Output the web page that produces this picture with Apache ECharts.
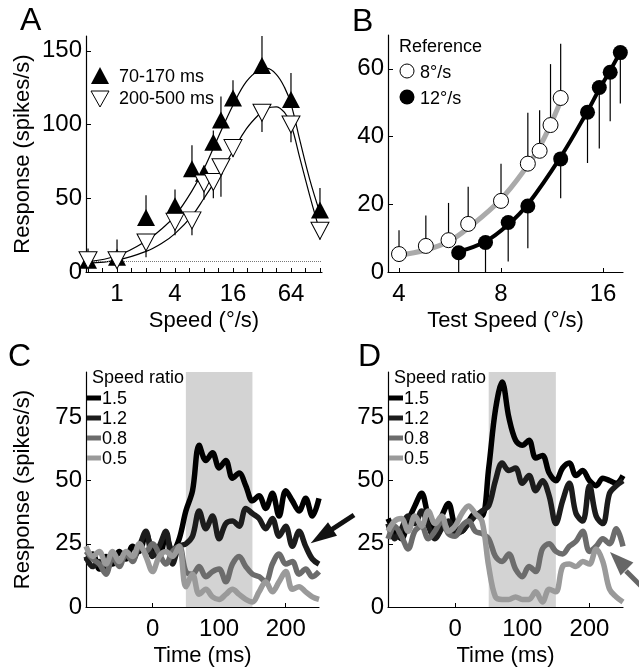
<!DOCTYPE html>
<html>
<head>
<meta charset="utf-8">
<script src="https://cdn.jsdelivr.net/npm/echarts@6/dist/echarts.min.js"></script>
<style>
  html, body { margin: 0; padding: 0; background: #fff; }
  #chart { width: 639px; height: 671px; }
</style>
</head>
<body>
<div id="chart"></div>
<script>
// panel A: speed tuning, two time windows
const speedA = [0.5, 1, 2, 4, 6, 8, 10, 12, 16, 32, 64, 128];
const earlyA = [8, 10, 37, 45, 70, 67, 88, 103, 118, 140, 117, 42];
const earlyErrA = [8, 12, 15, 11, 16, 5, 8, 16, 12, 20, 18, 15];
const lateA = [8, 8, 20, 34, 35, 60, 61, 71, 84, 108, 100, 28];
const lateErrA = [5, 4, 10, 9, 10, 11, 11, 20, 6, 13, 12, 6];
const fitSpeedA = [0.5, 1, 2, 3, 4, 6, 8, 11, 16, 22, 30, 36, 45, 55, 64, 80, 100, 128];
const earlyFitA = [7, 11, 21, 30, 38, 55, 70, 90, 113, 129, 137, 138, 134, 125, 114, 88, 63, 40];
const lateFitA = [6, 8, 14, 20, 26, 38, 50, 64, 82, 97, 107, 111, 112, 108, 100, 76, 52, 27];
const spontA = 7;

// panel B: test speed, two reference speeds
const testSpeed8 = [4, 4.8, 5.6, 6.4, 8, 9.6, 10.4, 11.2, 12];
const resp8 = [5.3, 7.7, 9.4, 14.2, 21, 32, 35.8, 43.4, 51.4];
const err8 = [7, 9, 11, 11, 11, 15, 12, 18, 16];
const fit8 = [5, 6.5, 9, 13, 21.5, 31.5, 37, 43.5, 50.5];
const testSpeed12 = [6, 7.2, 8.4, 9.6, 12, 14.4, 15.6, 16.8, 18];
const resp12 = [5.7, 8.7, 14.6, 19.5, 33.4, 47.2, 54.5, 59, 64.8];
const err12 = [6, 9, 11.5, 12.5, 11.6, 15, 18, 14.5, 15];
const fit12 = [6, 9, 14, 20, 34, 47.5, 54, 59.5, 65];

// panels C, D: PSTH by speed ratio
const timeMs = [-100, -90, -80, -70, -60, -50, -40, -30, -20, -10, 0, 10, 20, 30, 40, 50, 60, 70,
  80, 90, 100, 110, 120, 130, 140, 150, 160, 170, 180, 190, 200, 210, 220, 230, 240, 250];
const ratios = ['1.5', '1.2', '0.8', '0.5'];
const ratioColors = ['#000000', '#1c1c1c', '#6c6c6c', '#9a9a9a'];
const c15 = [18, 21, 15, 20, 17, 22, 19, 24, 22, 29, 22, 20, 28, 22, 27, 38, 46, 64, 58, 61, 55, 58, 51, 53, 48, 42, 44, 39, 45, 36, 46, 42, 38, 43, 36, 43];
const c12 = [20, 16, 18, 14, 19, 17, 21, 19, 24, 30, 20, 24, 30, 17, 24, 25, 28, 38, 31, 36, 27, 33, 34, 32, 39, 37, 35, 31, 35, 28, 32, 24, 30, 24, 19, 17];
const c08 = [22, 19, 17, 13, 20, 16, 21, 18, 24, 22, 25, 21, 17, 22, 24, 14, 13, 16, 12, 14, 15, 10, 17, 20, 16, 13, 12, 10, 17, 21, 17, 18, 13, 15, 12, 14];
const c05 = [24, 20, 22, 17, 22, 18, 22, 20, 25, 20, 14, 20, 22, 20, 24, 8, 13, 5, 7, 4, 3, 5, 7, 5, 3, 2, 6, 10, 6, 10, 14, 7, 8, 6, 4, 3];
const d15 = [35, 30, 27, 34, 40, 45, 36, 31, 36, 41, 32, 30, 34, 37, 36, 55, 78, 89, 75, 66, 64, 66, 59, 60, 53, 50, 55, 57, 52, 54, 50, 48, 51, 50, 49, 52];
const d12 = [33, 27, 31, 36, 33, 38, 32, 27, 31, 34, 29, 30, 33, 36, 38, 40, 50, 57, 54, 55, 49, 52, 46, 50, 44, 33, 42, 49, 37, 34, 48, 36, 33, 45, 48, 50];
const d08 = [27, 32, 28, 23, 30, 32, 27, 30, 34, 29, 28, 32, 34, 30, 29, 27, 20, 18, 21, 15, 12, 16, 14, 23, 25, 22, 21, 24, 26, 30, 22, 24, 27, 25, 31, 24];
const d05 = [30, 34, 35, 30, 36, 32, 38, 33, 36, 30, 32, 37, 40, 37, 34, 16, 4, 3, 3, 4, 3, 3, 6, 2, 7, 6, 16, 17, 16, 18, 17, 23, 18, 7, 4, 2];
const windowMs = [50, 150];

const L = Math.log2;
const FONT = 'Liberation Sans, Arial, Helvetica, sans-serif';
const chart = echarts.init(document.getElementById('chart'));

function errBars(xi, yi, xs, lo, hi) {
  return {
    type: 'custom', xAxisIndex: xi, yAxisIndex: yi, z: 3, silent: true,
    data: xs.map((x, i) => [x, Math.max(0, lo[i]), hi[i]]),
    encode: { x: 0, y: [1, 2] },
    renderItem: (params, api) => {
      const p1 = api.coord([api.value(0), api.value(1)]);
      const p2 = api.coord([api.value(0), api.value(2)]);
      return { type: 'line', shape: { x1: p1[0], y1: p1[1], x2: p2[0], y2: p2[1] },
        style: { stroke: '#000', lineWidth: 1.2 } };
    }
  };
}

function baseAxisX(grid, min, max, labels, ticks, fmt, name) {
  return {
    type: 'value', gridIndex: grid, min: min, max: max,
    splitLine: { show: false },
    axisLine: { onZero: false, lineStyle: { color: '#000', width: 1.2 } },
    axisTick: { inside: true, length: 4, customValues: ticks, lineStyle: { color: '#000' } },
    axisLabel: { customValues: labels, formatter: fmt, color: '#000', fontSize: 24, fontFamily: FONT, margin: 10 },
    name: name, nameLocation: 'middle', nameGap: 38,
    nameTextStyle: { color: '#000', fontSize: 22, fontFamily: FONT }
  };
}
function baseAxisY(grid, min, max, labels, name) {
  return {
    type: 'value', gridIndex: grid, min: min, max: max,
    splitLine: { show: false },
    axisLine: { show: true, onZero: false, lineStyle: { color: '#000', width: 1.2 } },
    axisTick: { show: true, inside: true, length: 5, customValues: labels, lineStyle: { color: '#000' } },
    axisLabel: { customValues: labels, color: '#000', fontSize: 24, fontFamily: FONT, margin: 4 },
    name: name || '', nameLocation: 'middle', nameGap: 52,
    nameTextStyle: { color: '#000', fontSize: 22, fontFamily: FONT }
  };
}

const pow2 = v => String(Math.round(Math.pow(2, v)));
const halfOct = [];
for (let v = -1; v <= 7; v += 0.5) halfOct.push(v);

const series = [];
// A
series.push({ type: 'line', xAxisIndex: 0, yAxisIndex: 0, smooth: 0.4, showSymbol: false, z: 2,
  data: fitSpeedA.map((s, i) => [L(s), earlyFitA[i]]), lineStyle: { color: '#000', width: 1.2 },
  markLine: { silent: true, symbol: 'none', label: { show: false },
    lineStyle: { type: 'dotted', color: '#777', width: 1 }, data: [{ yAxis: spontA }] } });
series.push({ type: 'line', xAxisIndex: 0, yAxisIndex: 0, smooth: 0.4, showSymbol: false, z: 2,
  data: fitSpeedA.map((s, i) => [L(s), lateFitA[i]]), lineStyle: { color: '#000', width: 1.2 } });
series.push(errBars(0, 0, speedA.map(L), earlyA, earlyA.map((v, i) => v + earlyErrA[i])));
series.push(errBars(0, 0, speedA.map(L), lateA.map((v, i) => v - lateErrA[i]), lateA));
series.push({ type: 'scatter', xAxisIndex: 0, yAxisIndex: 0, z: 5, symbol: 'triangle', symbolSize: [18, 17],
  data: speedA.map((s, i) => [L(s), earlyA[i]]), itemStyle: { color: '#000', opacity: 1 } });
series.push({ type: 'scatter', xAxisIndex: 0, yAxisIndex: 0, z: 6, symbol: 'triangle', symbolSize: [18, 17], symbolRotate: 180,
  data: speedA.map((s, i) => [L(s), lateA[i]]), itemStyle: { color: '#fff', borderColor: '#000', borderWidth: 1, opacity: 1 } });
// B
series.push({ type: 'line', xAxisIndex: 1, yAxisIndex: 1, smooth: 0.4, showSymbol: false, z: 2,
  data: testSpeed8.map((s, i) => [L(s), fit8[i]]), lineStyle: { color: '#aaaaaa', width: 5 } });
series.push({ type: 'line', xAxisIndex: 1, yAxisIndex: 1, smooth: 0.4, showSymbol: false, z: 2,
  data: testSpeed12.map((s, i) => [L(s), fit12[i]]), lineStyle: { color: '#000', width: 4 } });
series.push(errBars(1, 1, testSpeed8.map(L), resp8, resp8.map((v, i) => v + err8[i])));
series.push(errBars(1, 1, testSpeed12.map(L), resp12.map((v, i) => v - err12[i]), resp12));
series.push({ type: 'scatter', xAxisIndex: 1, yAxisIndex: 1, z: 5, symbol: 'circle', symbolSize: 15,
  data: testSpeed8.map((s, i) => [L(s), resp8[i]]), itemStyle: { color: '#fff', borderColor: '#000', borderWidth: 1, opacity: 1 } });
series.push({ type: 'scatter', xAxisIndex: 1, yAxisIndex: 1, z: 5, symbol: 'circle', symbolSize: 15,
  data: testSpeed12.map((s, i) => [L(s), resp12[i]]), itemStyle: { color: '#000', opacity: 1 } });
// C, D
[[c15, c12, c08, c05], [d15, d12, d08, d05]].forEach((traces, p) => {
  traces.forEach((tr, k) => {
    const s = { type: 'line', xAxisIndex: 2 + p, yAxisIndex: 2 + p, smooth: 0.35, showSymbol: false, z: 3 + k,
      data: timeMs.map((t, i) => [t, tr[i]]), lineStyle: { color: ratioColors[k], width: 5.5 } };
    if (k === 0) {
      s.markArea = { silent: true, itemStyle: { color: '#d3d3d3' },
        data: [[{ xAxis: windowMs[0] }, { xAxis: windowMs[1] }]] };
    }
    series.push(s);
  });
});

// legends, panel letters, arrows
const graphic = [];
const txt = (x, y, text, size, align) => ({ type: 'text', x: x, y: y, z: 100,
  style: { text: text, fill: '#000', font: size + 'px ' + FONT, align: align || 'left', verticalAlign: 'middle' } });
graphic.push(txt(20, 21, 'A', 32), txt(352, 22, 'B', 32), txt(8, 357, 'C', 32), txt(358, 357, 'D', 32));
graphic.push({ type: 'polygon', z: 100, shape: { points: [[100, 67], [109, 84], [91, 84]] }, style: { fill: '#000' } });
graphic.push({ type: 'polygon', z: 100, shape: { points: [[91, 91], [109, 91], [100, 107]] }, style: { fill: '#fff', stroke: '#000', lineWidth: 1 } });
graphic.push(txt(119, 77, '70-170 ms', 18), txt(119, 99, '200-500 ms', 18));
graphic.push(txt(399, 47, 'Reference', 18));
graphic.push({ type: 'circle', z: 100, shape: { cx: 407, cy: 71, r: 7 }, style: { fill: '#fff', stroke: '#000', lineWidth: 1 } });
graphic.push({ type: 'circle', z: 100, shape: { cx: 407, cy: 97, r: 7.5 }, style: { fill: '#000' } });
graphic.push(txt(420, 73, '8°/s', 18), txt(420, 99, '12°/s', 18));
[[86, 378], [388, 378]].forEach(([x0, y0]) => {
  graphic.push(txt(x0 + 6, y0, 'Speed ratio', 18));
  ratios.forEach((r, k) => {
    const y = y0 + 20 + k * 20;
    graphic.push({ type: 'line', z: 100, shape: { x1: x0 + 1, y1: y, x2: x0 + 15, y2: y },
      style: { stroke: ratioColors[k], lineWidth: 5 } });
    graphic.push(txt(x0 + 16, y + 1, r, 18));
  });
});
// arrows
graphic.push({ type: 'line', z: 100, shape: { x1: 354, y1: 515, x2: 331, y2: 530 }, style: { stroke: '#111', lineWidth: 5 } });
graphic.push({ type: 'polygon', z: 100, shape: { points: [[310.7, 543.3], [337, 535.7], [328, 522.3]] }, style: { fill: '#111' } });
graphic.push({ type: 'line', z: 100, shape: { x1: 645, y1: 590, x2: 626, y2: 571 }, style: { stroke: '#666', lineWidth: 5 } });
graphic.push({ type: 'polygon', z: 100, shape: { points: [[610, 552], [633.4, 562.6], [620.6, 575.4]] }, style: { fill: '#666' } });

chart.setOption({
  animation: false,
  backgroundColor: '#fff',
  grid: [
    { left: 86, top: 36, width: 236, height: 236 },
    { left: 388, top: 35, width: 235, height: 237 },
    { left: 86, top: 372, width: 233, height: 235 },
    { left: 388, top: 372, width: 235, height: 235 }
  ],
  xAxis: [
    baseAxisX(0, -1.07, 7.07, [0, 2, 4, 6], halfOct, pow2, 'Speed (°/s)'),
    baseAxisX(1, 1.892, 4.196, [2, 3, 4], [2, 3, 4], pow2, 'Test Speed (°/s)'),
    baseAxisX(2, -100, 250, [0, 100, 200], [0, 100, 200], v => String(v), 'Time (ms)'),
    baseAxisX(3, -100, 250, [0, 100, 200], [0, 100, 200], v => String(v), 'Time (ms)')
  ],
  yAxis: [
    baseAxisY(0, 0, 160, [0, 50, 100, 150], 'Response (spikes/s)'),
    baseAxisY(1, 0, 70, [0, 20, 40, 60]),
    baseAxisY(2, 0, 93, [0, 25, 50, 75], 'Response (spikes/s)'),
    baseAxisY(3, 0, 93, [0, 25, 50, 75])
  ],
  series: series,
  graphic: graphic
});
</script>
</body>
</html>
